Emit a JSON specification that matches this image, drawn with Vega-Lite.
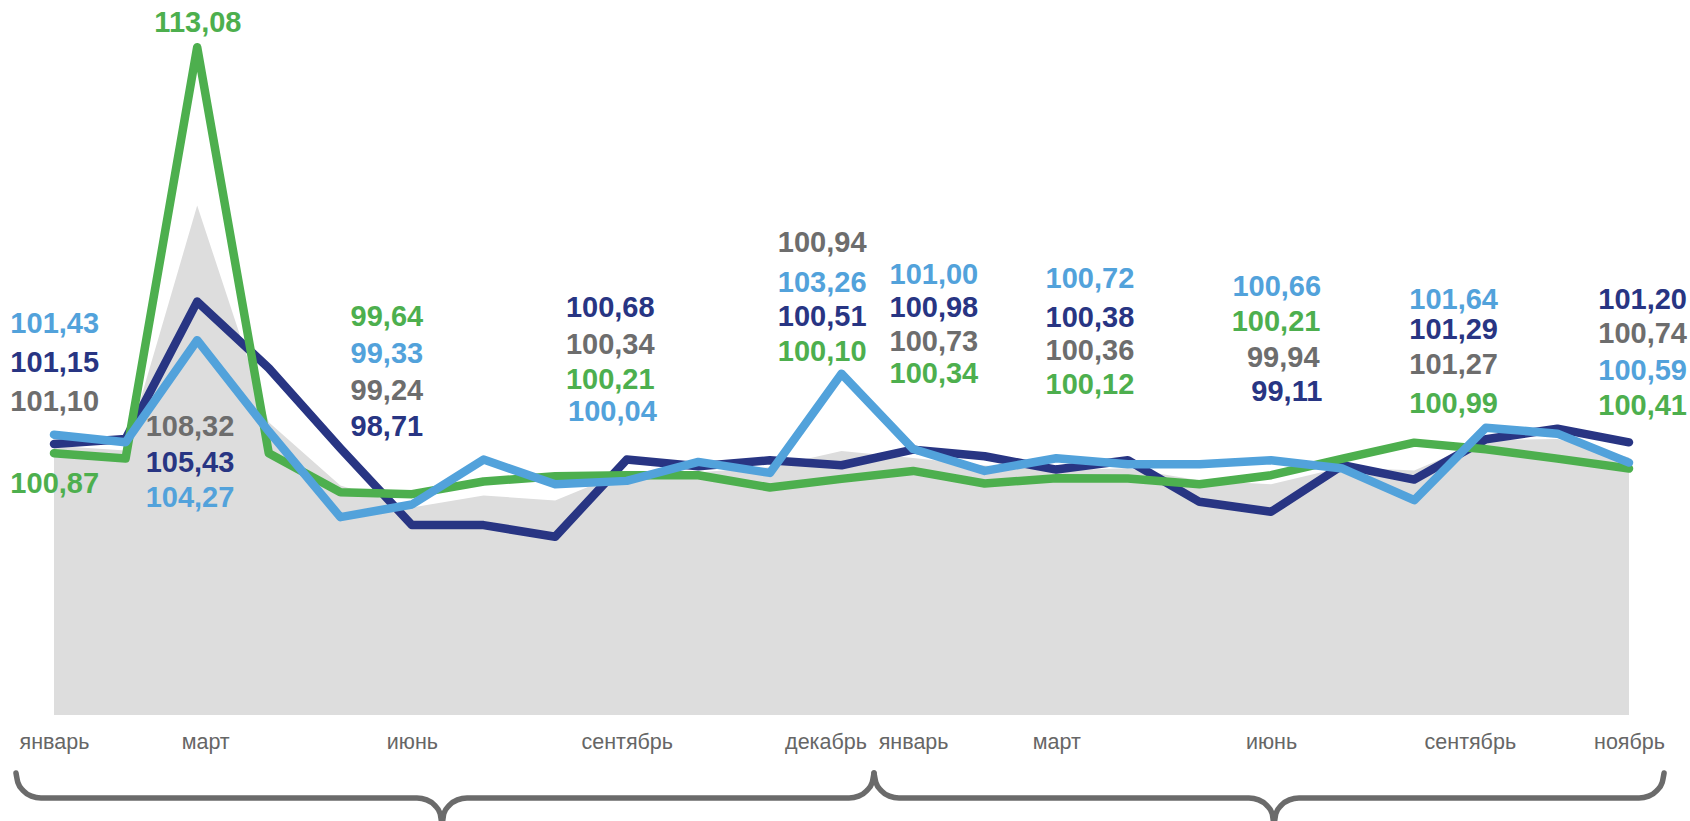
{
  "$schema": "https://vega.github.io/schema/vega-lite/v6.json",
  "width": 1575,
  "height": 715,
  "autosize": {"type": "none"},
  "padding": {"left": 54, "top": 0, "right": 61, "bottom": 106},
  "background": "white",
  "config": {"view": {"stroke": null}},
  "datasets": {
    "series": [
      {"i": 0, "m": "январь", "gray": 101.10, "db": 101.15, "g": 100.87, "lb": 101.43},
      {"i": 1, "m": "февраль", "gray": 100.95, "db": 101.30, "g": 100.71, "lb": 101.20},
      {"i": 2, "m": "март", "gray": 108.32, "db": 105.43, "g": 113.08, "lb": 104.27},
      {"i": 3, "m": "апрель", "gray": 101.80, "db": 103.43, "g": 100.87, "lb": 101.53},
      {"i": 4, "m": "май", "gray": 99.90, "db": 101.02, "g": 99.70, "lb": 98.95},
      {"i": 5, "m": "июнь", "gray": 99.24, "db": 98.71, "g": 99.64, "lb": 99.33},
      {"i": 6, "m": "июль", "gray": 99.60, "db": 98.71, "g": 100.02, "lb": 100.68},
      {"i": 7, "m": "август", "gray": 99.45, "db": 98.36, "g": 100.18, "lb": 99.94},
      {"i": 8, "m": "сентябрь", "gray": 100.34, "db": 100.68, "g": 100.21, "lb": 100.04},
      {"i": 9, "m": "октябрь", "gray": 100.30, "db": 100.48, "g": 100.21, "lb": 100.61},
      {"i": 10, "m": "ноябрь", "gray": 100.45, "db": 100.66, "g": 99.84, "lb": 100.28},
      {"i": 11, "m": "декабрь", "gray": 100.94, "db": 100.51, "g": 100.10, "lb": 103.26},
      {"i": 12, "m": "январь", "gray": 100.73, "db": 100.98, "g": 100.34, "lb": 101.00},
      {"i": 13, "m": "февраль", "gray": 100.50, "db": 100.78, "g": 99.96, "lb": 100.34},
      {"i": 14, "m": "март", "gray": 100.36, "db": 100.38, "g": 100.12, "lb": 100.72},
      {"i": 15, "m": "апрель", "gray": 100.42, "db": 100.66, "g": 100.11, "lb": 100.54},
      {"i": 16, "m": "май", "gray": 100.05, "db": 99.41, "g": 99.94, "lb": 100.54},
      {"i": 17, "m": "июнь", "gray": 99.94, "db": 99.11, "g": 100.21, "lb": 100.66},
      {"i": 18, "m": "июль", "gray": 100.45, "db": 100.51, "g": 100.71, "lb": 100.41},
      {"i": 19, "m": "август", "gray": 100.35, "db": 100.08, "g": 101.19, "lb": 99.46},
      {"i": 20, "m": "сентябрь", "gray": 101.27, "db": 101.29, "g": 100.99, "lb": 101.64},
      {"i": 21, "m": "октябрь", "gray": 101.30, "db": 101.61, "g": 100.71, "lb": 101.46},
      {"i": 22, "m": "ноябрь", "gray": 100.74, "db": 101.20, "g": 100.41, "lb": 100.59}
    ],
    "labels": [
      {"lx": 0.01, "ly": 104.75, "t": "101,43", "s": "lb"},
      {"lx": 0.01, "ly": 103.58, "t": "101,15", "s": "db"},
      {"lx": 0.01, "ly": 102.41, "t": "101,10", "s": "gray"},
      {"lx": 0.01, "ly": 99.94, "t": "100,87", "s": "g"},
      {"lx": 2.01, "ly": 113.80, "t": "113,08", "s": "g"},
      {"lx": 1.9, "ly": 101.65, "t": "108,32", "s": "gray"},
      {"lx": 1.9, "ly": 100.57, "t": "105,43", "s": "db"},
      {"lx": 1.9, "ly": 99.52, "t": "104,27", "s": "lb"},
      {"lx": 4.65, "ly": 104.96, "t": "99,64", "s": "g"},
      {"lx": 4.65, "ly": 103.85, "t": "99,33", "s": "lb"},
      {"lx": 4.65, "ly": 102.74, "t": "99,24", "s": "gray"},
      {"lx": 4.65, "ly": 101.65, "t": "98,71", "s": "db"},
      {"lx": 7.77, "ly": 105.23, "t": "100,68", "s": "db"},
      {"lx": 7.77, "ly": 104.12, "t": "100,34", "s": "gray"},
      {"lx": 7.77, "ly": 103.07, "t": "100,21", "s": "g"},
      {"lx": 7.80, "ly": 102.10, "t": "100,04", "s": "lb"},
      {"lx": 10.73, "ly": 107.19, "t": "100,94", "s": "gray"},
      {"lx": 10.73, "ly": 105.98, "t": "103,26", "s": "lb"},
      {"lx": 10.73, "ly": 104.96, "t": "100,51", "s": "db"},
      {"lx": 10.73, "ly": 103.91, "t": "100,10", "s": "g"},
      {"lx": 12.29, "ly": 106.22, "t": "101,00", "s": "lb"},
      {"lx": 12.29, "ly": 105.23, "t": "100,98", "s": "db"},
      {"lx": 12.29, "ly": 104.21, "t": "100,73", "s": "gray"},
      {"lx": 12.29, "ly": 103.25, "t": "100,34", "s": "g"},
      {"lx": 14.47, "ly": 106.10, "t": "100,72", "s": "lb"},
      {"lx": 14.47, "ly": 104.93, "t": "100,38", "s": "db"},
      {"lx": 14.47, "ly": 103.94, "t": "100,36", "s": "gray"},
      {"lx": 14.47, "ly": 102.92, "t": "100,12", "s": "g"},
      {"lx": 17.08, "ly": 105.86, "t": "100,66", "s": "lb"},
      {"lx": 17.07, "ly": 104.81, "t": "100,21", "s": "g"},
      {"lx": 17.17, "ly": 103.73, "t": "99,94", "s": "gray"},
      {"lx": 17.22, "ly": 102.71, "t": "99,11", "s": "db"},
      {"lx": 19.55, "ly": 105.47, "t": "101,64", "s": "lb"},
      {"lx": 19.55, "ly": 104.57, "t": "101,29", "s": "db"},
      {"lx": 19.55, "ly": 103.52, "t": "101,27", "s": "gray"},
      {"lx": 19.55, "ly": 102.35, "t": "100,99", "s": "g"},
      {"lx": 22.19, "ly": 105.47, "t": "101,20", "s": "db"},
      {"lx": 22.19, "ly": 104.45, "t": "100,74", "s": "gray"},
      {"lx": 22.19, "ly": 103.34, "t": "100,59", "s": "lb"},
      {"lx": 22.19, "ly": 102.29, "t": "100,41", "s": "g"}
    ],
    "braces": [
      {"b": 1, "k": 1, "x": -0.531, "y": 91.256},
      {"b": 1, "k": 2, "x": -0.504, "y": 90.968},
      {"b": 1, "k": 3, "x": -0.429, "y": 90.724},
      {"b": 1, "k": 4, "x": -0.316, "y": 90.562},
      {"b": 1, "k": 5, "x": -0.182, "y": 90.504},
      {"b": 1, "k": 6, "x": 5.070, "y": 90.504},
      {"b": 1, "k": 7, "x": 5.205, "y": 90.447},
      {"b": 1, "k": 8, "x": 5.318, "y": 90.285},
      {"b": 1, "k": 9, "x": 5.393, "y": 90.041},
      {"b": 1, "k": 10, "x": 5.420, "y": 89.753},
      {"b": 1, "k": 11, "x": 5.446, "y": 90.041},
      {"b": 1, "k": 12, "x": 5.522, "y": 90.285},
      {"b": 1, "k": 13, "x": 5.635, "y": 90.447},
      {"b": 1, "k": 14, "x": 5.769, "y": 90.504},
      {"b": 1, "k": 15, "x": 11.105, "y": 90.504},
      {"b": 1, "k": 16, "x": 11.239, "y": 90.562},
      {"b": 1, "k": 17, "x": 11.352, "y": 90.724},
      {"b": 1, "k": 18, "x": 11.428, "y": 90.968},
      {"b": 1, "k": 19, "x": 11.454, "y": 91.256},
      {"b": 2, "k": 1, "x": 11.454, "y": 91.256},
      {"b": 2, "k": 2, "x": 11.481, "y": 90.968},
      {"b": 2, "k": 3, "x": 11.556, "y": 90.724},
      {"b": 2, "k": 4, "x": 11.669, "y": 90.562},
      {"b": 2, "k": 5, "x": 11.803, "y": 90.504},
      {"b": 2, "k": 6, "x": 16.692, "y": 90.504},
      {"b": 2, "k": 7, "x": 16.826, "y": 90.447},
      {"b": 2, "k": 8, "x": 16.939, "y": 90.285},
      {"b": 2, "k": 9, "x": 17.015, "y": 90.041},
      {"b": 2, "k": 10, "x": 17.041, "y": 89.753},
      {"b": 2, "k": 11, "x": 17.068, "y": 90.041},
      {"b": 2, "k": 12, "x": 17.143, "y": 90.285},
      {"b": 2, "k": 13, "x": 17.256, "y": 90.447},
      {"b": 2, "k": 14, "x": 17.390, "y": 90.504},
      {"b": 2, "k": 15, "x": 22.140, "y": 90.504},
      {"b": 2, "k": 16, "x": 22.274, "y": 90.562},
      {"b": 2, "k": 17, "x": 22.387, "y": 90.724},
      {"b": 2, "k": 18, "x": 22.463, "y": 90.968},
      {"b": 2, "k": 19, "x": 22.490, "y": 91.256}
    ]
  },
  "layer": [
    {
      "data": {"name": "series"},
      "mark": {"type": "area", "color": "#DDDDDD", "interpolate": "linear"},
      "encoding": {
        "x": {
          "field": "i", "type": "quantitative",
          "scale": {"domain": [0, 22], "nice": false, "zero": false},
          "axis": {
            "values": [0, 2, 5, 8, 11, 12, 14, 17, 20, 22],
            "labelExpr": "['январь','февраль','март','апрель','май','июнь','июль','август','сентябрь','октябрь','ноябрь','декабрь'][datum.value % 12]",
            "title": null, "grid": false, "domain": false, "ticks": false, "tickSize": 0,
            "labelFont": "Liberation Sans", "labelFontSize": 21.5, "labelColor": "#666666",
            "labelBaseline": "alphabetic", "labelPadding": 33, "labelAlign": "center",
            "labelOverlap": false, "labelFlush": false,
            "labelOffset": {"condition": [{"test": "datum.value == 11 || datum.value == 20", "value": -16}, {"test": "datum.value == 2", "value": 8}], "value": 0}
          }
        },
        "y": {
          "field": "gray", "type": "quantitative",
          "scale": {"domain": [93, 114.5], "nice": false, "zero": false},
          "axis": null
        },
        "y2": {"datum": 93}
      }
    },
    {
      "data": {"name": "series"},
      "mark": {"type": "line", "color": "#283583", "strokeWidth": 8.5, "strokeJoin": "round", "strokeCap": "round"},
      "encoding": {
        "x": {"field": "i", "type": "quantitative"},
        "y": {"field": "db", "type": "quantitative"}
      }
    },
    {
      "data": {"name": "series"},
      "mark": {"type": "line", "color": "#4DAF4E", "strokeWidth": 8.5, "strokeJoin": "round", "strokeCap": "round"},
      "encoding": {
        "x": {"field": "i", "type": "quantitative"},
        "y": {"field": "g", "type": "quantitative"}
      }
    },
    {
      "data": {"name": "series"},
      "mark": {"type": "line", "color": "#52A2DB", "strokeWidth": 8.5, "strokeJoin": "round", "strokeCap": "round"},
      "encoding": {
        "x": {"field": "i", "type": "quantitative"},
        "y": {"field": "lb", "type": "quantitative"}
      }
    },
    {
      "data": {"name": "labels"},
      "mark": {"type": "text", "font": "Liberation Sans", "fontWeight": "bold", "fontSize": 29, "align": "center", "baseline": "middle"},
      "encoding": {
        "x": {"field": "lx", "type": "quantitative"},
        "y": {"field": "ly", "type": "quantitative"},
        "text": {"field": "t"},
        "color": {
          "field": "s", "type": "nominal",
          "scale": {"domain": ["gray", "db", "g", "lb"], "range": ["#6D6D6D", "#283583", "#4DAF4E", "#52A2DB"]},
          "legend": null
        }
      }
    },
    {
      "data": {"name": "braces"},
      "mark": {"type": "line", "color": "#6B6B6B", "strokeWidth": 5.5, "interpolate": "monotone", "strokeCap": "round", "clip": false},
      "encoding": {
        "x": {"field": "x", "type": "quantitative"},
        "y": {"field": "y", "type": "quantitative"},
        "detail": {"field": "b"},
        "order": {"field": "k"}
      }
    }
  ]
}
